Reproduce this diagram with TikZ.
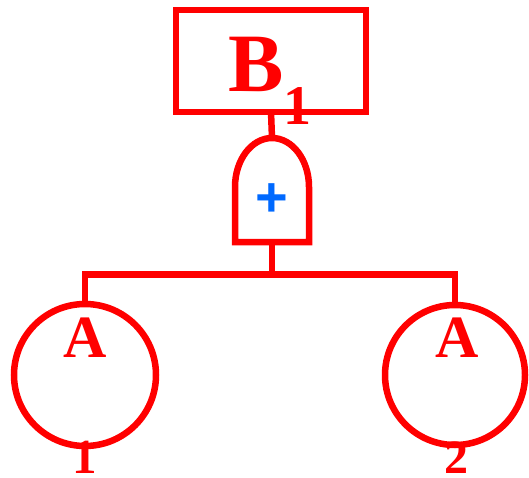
\documentclass[tikz,border=0pt]{standalone}
\usepackage{fontspec}
\setmainfont{Liberation Serif}[BoldFont={Liberation Serif Bold}]
\newfontfamily\sinalfont{Liberation Sans}[BoldFont={Liberation Sans Bold}]
\usetikzlibrary{positioning}

\definecolor{azulsinal}{RGB}{0,105,255}

\begin{document}
\begin{tikzpicture}[
    x=1pt,y=1pt,
    every node/.style={inner sep=0pt,outer sep=0pt},
    linha/.style={red,line width=6.5pt},
    caixa/.style={linha,draw,rectangle,minimum width=190pt,minimum height=102pt},
    evento/.style={linha,draw,circle,minimum size=142pt},
    porta/.style={rectangle,minimum width=74pt,minimum height=104pt},
    letra/.style={text=red,anchor=base,font=\bfseries\fontsize{#1}{#1}\selectfont},
    sinal/.style={text=azulsinal,font=\sinalfont\bfseries\fontsize{56}{56}\selectfont}
  ]
    \useasboundingbox (0,0) rectangle (529,477);

    % evento de topo
    \node[caixa] (topo) at (271,416) {};
    \node[letra=83] (topoB) at (256,385) {B};
    \node[letra=56] (topoSub) at (297,352) {1};

    % porta OU
    \node[porta] (ou) at (272,287) {};
    \draw[linha] (ou.south west) -- ++(0,55)
      arc[start angle=180,end angle=0,x radius=37pt,y radius=49pt]
      -- (ou.south east) -- cycle;
    \node[sinal] (mais) at (271.5,277) {+};

    % eventos basicos
    \node[evento] (evA) at (85,102) {};
    \node[evento,minimum size=140pt] (evB) at (455,102) {};
    \node[letra=60] (evAletra) at (85.5,120) {A};
    \node[letra=49] (evAsub) at (85,4) {1};
    \node[letra=60] (evBletra) at (457,120) {A};
    \node[letra=48] (evBsub) at (456,4) {2};

    \coordinate (juncao) at (272,202.5);

    \draw[linha] (topo.south) -- (ou.north);
    \draw[linha] (ou.south) -- (juncao);
    \draw[linha] (evA.north) |- (juncao) -| (evB.north);
\end{tikzpicture}
\end{document}
